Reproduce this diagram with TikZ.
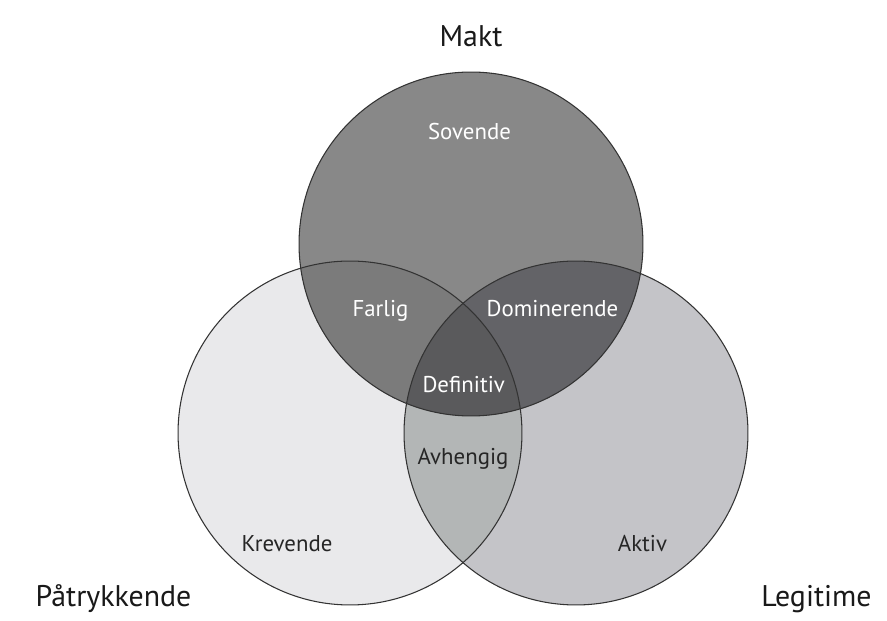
\documentclass[tikz,border=0pt]{standalone}
\usepackage{fontspec}
\setmainfont{PT Sans}
\definecolor{mgray}{HTML}{888888}
\definecolor{pgray}{HTML}{E9E9EB}
\definecolor{lgray}{HTML}{C4C4C8}
\definecolor{mpgray}{HTML}{7B7B7B}
\definecolor{mlgray}{HTML}{636367}
\definecolor{plgray}{HTML}{B3B6B6}
\definecolor{allgray}{HTML}{5A5A5C}
\tikzset{
  ring/.style={draw=black!80,line width=0.6pt},
  inlbl/.style={anchor=base,font=\fontsize{13}{15}\selectfont},
  outlbl/.style={anchor=base,text=black!90,font=\fontsize{17}{20}\selectfont}
}
\begin{document}
\begin{tikzpicture}[x=0.02cm,y=-0.02cm]
\useasboundingbox[fill=white] (0,0) rectangle (887,621);
\def\rad{3.44cm}
\coordinate (mc) at (471,244);
\coordinate (pc) at (350,433);
\coordinate (lc) at (576,433);
\fill[pgray] (pc) circle[radius=\rad];
\fill[lgray] (lc) circle[radius=\rad];
\fill[mgray] (mc) circle[radius=\rad];
\begin{scope}
  \clip (pc) circle[radius=\rad];
  \fill[plgray] (lc) circle[radius=\rad];
\end{scope}
\begin{scope}
  \clip (mc) circle[radius=\rad];
  \fill[mpgray] (pc) circle[radius=\rad];
  \fill[mlgray] (lc) circle[radius=\rad];
  \clip (pc) circle[radius=\rad];
  \fill[allgray] (lc) circle[radius=\rad];
\end{scope}
\draw[ring] (pc) circle[radius=\rad];
\draw[ring] (lc) circle[radius=\rad];
\draw[ring] (mc) circle[radius=\rad];
% labels
\node[outlbl] (makt) at (471,47) {Makt};
\node[outlbl] (patr) at (113.5,607) {Påtrykkende};
\node[outlbl] (legit) at (816.5,607) {Legitime};
\node[inlbl,text=white] (sovende) at (469.5,140) {Sovende};
\node[inlbl,text=white] (farlig) at (380.5,317) {Farlig};
\node[inlbl,text=white] (domin) at (552.5,317) {Dominerende};
\node[inlbl,text=white] (defin) at (463.7,393) {Definitiv};
\node[inlbl,text=black!85] (avheng) at (463,465) {Avhengig};
\node[inlbl,text=black!85] (krev) at (287,552) {Krevende};
\node[inlbl,text=black!85] (aktiv) at (642.5,552) {Aktiv};
\end{tikzpicture}
\end{document}
